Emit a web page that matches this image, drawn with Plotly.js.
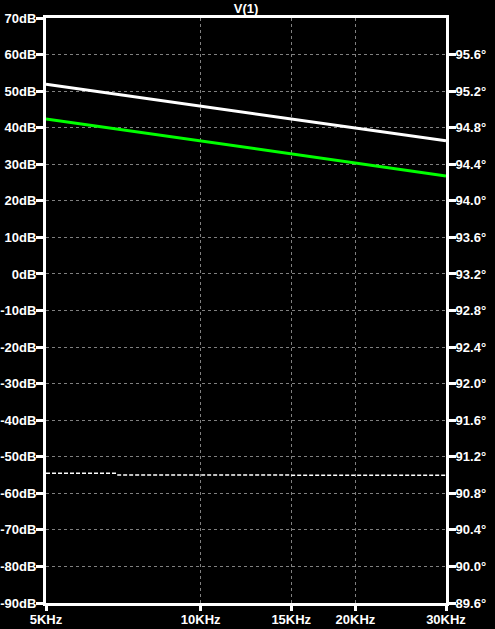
<!DOCTYPE html>
<html>
<head>
<meta charset="utf-8">
<script src="https://cdn.plot.ly/plotly-3.0.1.min.js"></script>
<style>html,body{margin:0;padding:0;background:#000;}#chart{width:495px;height:629px;}</style>
</head>
<body>
<div id="chart"></div>
<script>
// Frequencies (Hz)
const freq = [5000, 10000, 15000, 20000, 30000];
// Magnitude traces (dB), left axis
const magWhite = [51.9, 45.9, 42.4, 39.9, 36.4];
const magGreen = [42.4, 36.4, 32.9, 30.4, 26.8];
// Phase trace (degrees), right axis
const phaseFreq = [5000, 6850, 6900, 30000];
const phaseWhite = [91.02, 91.02, 91.0, 90.998];
// Tick labels
const xTickVals = [5000, 10000, 15000, 20000, 30000];
const xTickText = ["5KHz", "10KHz", "15KHz", "20KHz", "30KHz"];
const yTickVals = [-90, -80, -70, -60, -50, -40, -30, -20, -10, 0, 10, 20, 30, 40, 50, 60, 70];
const yTickText = ["-90dB", "-80dB", "-70dB", "-60dB", "-50dB", "-40dB", "-30dB", "-20dB", "-10dB", "0dB", "10dB", "20dB", "30dB", "40dB", "50dB", "60dB", "70dB"];
const y2TickVals = [89.6, 90.0, 90.4, 90.8, 91.2, 91.6, 92.0, 92.4, 92.8, 93.2, 93.6, 94.0, 94.4, 94.8, 95.2, 95.6];
const y2TickText = ["89.6°", "90.0°", "90.4°", "90.8°", "91.2°", "91.6°", "92.0°", "92.4°", "92.8°", "93.2°", "93.6°", "94.0°", "94.4°", "94.8°", "95.2°", "95.6°"];

const tickFont = {family: "Liberation Sans, Arial, sans-serif", size: 13, color: "#ffffff", weight: 700};

const traces = [
  {x: freq, y: magWhite, type: "scatter", mode: "lines", line: {color: "#ffffff", width: 3}, xaxis: "x", yaxis: "y", hoverinfo: "skip"},
  {x: freq, y: magGreen, type: "scatter", mode: "lines", line: {color: "#00ff00", width: 3}, xaxis: "x", yaxis: "y", hoverinfo: "skip"},
  {x: phaseFreq, y: phaseWhite, type: "scatter", mode: "lines", line: {color: "#ffffff", width: 1.5, dash: "4px,2px"}, xaxis: "x", yaxis: "y2", hoverinfo: "skip"}
];

const layout = {
  width: 495, height: 629,
  paper_bgcolor: "#000000", plot_bgcolor: "#000000",
  margin: {l: 46, r: 49, t: 18, b: 26, pad: 0},
  showlegend: false,
  title: {text: "V(1)", font: {family: "Liberation Sans, Arial, sans-serif", size: 13, color: "#ffffff", weight: 700}, x: 0.5, xref: "paper", y: 1 - 8/629, yref: "container", yanchor: "middle"},
  xaxis: {
    type: "log", range: [Math.log10(5000), Math.log10(30000)],
    tickmode: "array", tickvals: xTickVals, ticktext: xTickText,
    showline: true, linecolor: "#ffffff", linewidth: 3, mirror: true,
    ticks: "outside", ticklen: 5, tickwidth: 3, tickcolor: "#ffffff",
    showgrid: true, gridcolor: "#808080", gridwidth: 1, griddash: "3px,3px",
    zeroline: false, tickfont: tickFont, ticklabelstandoff: -3, fixedrange: true
  },
  yaxis: {
    range: [-90, 70], tickmode: "array", tickvals: yTickVals, ticktext: yTickText,
    showline: true, linecolor: "#ffffff", linewidth: 3,
    ticks: "outside", ticklen: 7, tickwidth: 3, tickcolor: "#ffffff",
    showgrid: true, gridcolor: "#808080", gridwidth: 1, griddash: "3px,3px",
    zeroline: false, tickfont: tickFont, ticklabelstandoff: -3, fixedrange: true
  },
  yaxis2: {
    range: [89.6, 96.0], tickmode: "array", tickvals: y2TickVals, ticktext: y2TickText,
    overlaying: "y", side: "right",
    showline: true, linecolor: "#ffffff", linewidth: 3,
    ticks: "outside", ticklen: 7, tickwidth: 3, tickcolor: "#ffffff",
    showgrid: false, zeroline: false, tickfont: tickFont, ticklabelstandoff: -3, fixedrange: true
  }
};

Plotly.newPlot("chart", traces, layout, {displayModeBar: false, staticPlot: true});
</script>
</body>
</html>
